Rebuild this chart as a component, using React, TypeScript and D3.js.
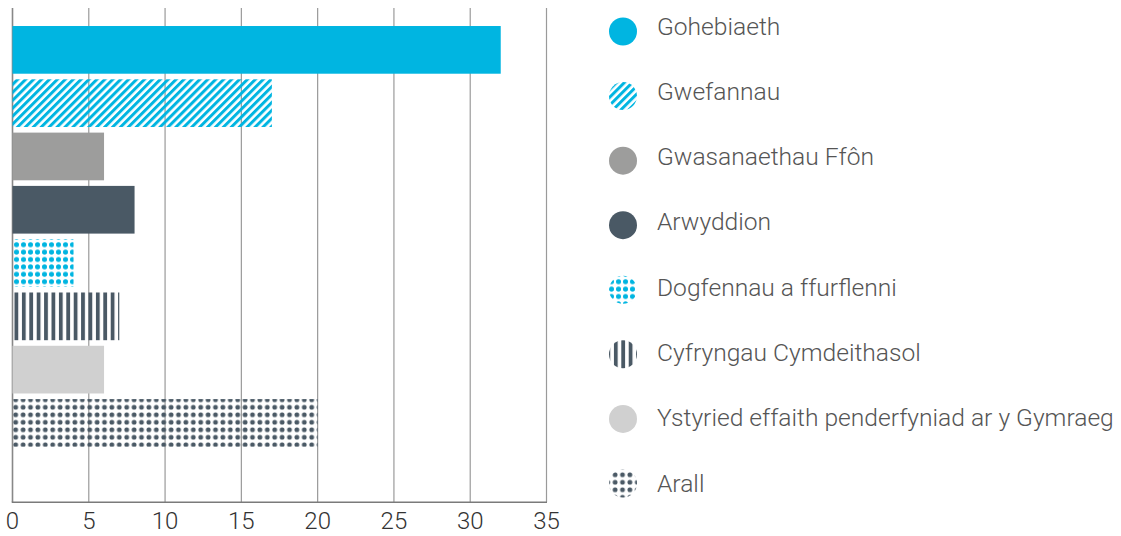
import React from "react";
import * as d3 from "d3";

const categories = [
  "Gohebiaeth",
  "Gwefannau",
  "Gwasanaethau Ffôn",
  "Arwyddion",
  "Dogfennau a ffurflenni",
  "Cyfryngau Cymdeithasol",
  "Ystyried effaith penderfyniad ar y Gymraeg",
  "Arall",
];
const values = [32, 17, 6, 8, 4, 7, 6, 20];
const fills = [
  "#00b5e1",
  "url(#pDiag)",
  "#9d9d9c",
  "#4a5965",
  "url(#pDotsCyan)",
  "url(#pVStripes)",
  "#d0d0d0",
  "url(#pDotsDark)",
];
const xTicks = [0, 5, 10, 15, 20, 25, 30, 35];

const W = 1121;
const H = 536;
const CYAN = "#00b5e1";
const DARK = "#4a5965";
const FONT = "'Helvetica Neue', Roboto, 'Liberation Sans', Arial, sans-serif";

export default function App() {
  const x = d3.scaleLinear().domain([0, 35]).range([12.5, 546.5]);
  const y = d3
    .scaleBand<string>()
    .domain(categories)
    .range([8, 502])
    .paddingInner(0.105)
    .paddingOuter(0.687)
    .align(0.246);
  const legendY = d3.scalePoint<string>().domain(categories).range([31.5, 483.5]);
  const legendTextY = d3.scalePoint<string>().domain(categories).range([26, 483]);

  return (
    <svg
      width={W}
      height={H}
      style={{ position: "absolute", left: 0, top: 0, background: "#fff" }}
    >
      <defs>
        <pattern id="pDiag" patternUnits="userSpaceOnUse" width={5.6} height={5.6} patternTransform="rotate(45)">
          <rect x={0} y={0} width={3} height={5.6} fill={CYAN} />
        </pattern>
        <pattern id="pDotsCyan" patternUnits="userSpaceOnUse" width={7} height={7.4} x={13} y={241}>
          <circle cx={3.5} cy={3.7} r={2.5} fill={CYAN} />
        </pattern>
        <pattern id="pVStripes" patternUnits="userSpaceOnUse" width={7.4} height={10} x={14.5}>
          <rect x={0} y={0} width={3.8} height={10} fill={DARK} />
        </pattern>
        <pattern id="pDotsDark" patternUnits="userSpaceOnUse" width={7.4} height={7.5} x={12} y={396}>
          <circle cx={3.7} cy={3.75} r={2.4} fill={DARK} />
        </pattern>
      </defs>

      {/* grid lines */}
      {xTicks.map((t) => (
        <line
          key={"g" + t}
          x1={x(t)}
          x2={x(t)}
          y1={8}
          y2={502}
          stroke={t === 0 ? "#888" : "#9a9a9a"}
          strokeWidth={t === 0 ? 1.6 : 1.2}
        />
      ))}

      {/* bars */}
      {categories.map((c, i) => (
        <rect
          key={c}
          x={x(0)}
          y={y(c)}
          width={x(values[i]) - x(0)}
          height={y.bandwidth()}
          fill={fills[i]}
        />
      ))}

      {/* bottom axis */}
      <line x1={x(0) - 0.8} x2={x(35) + 0.5} y1={502.3} y2={502.3} stroke="#7a7a7a" strokeWidth={1.6} />

      {xTicks.map((t) => (
        <text
          key={"t" + t}
          x={x(t)}
          y={521}
          textAnchor="middle"
          dominantBaseline="central"
          fontFamily={FONT}
          fontWeight={300}
          fontSize={24}
          fill="#333"
        >
          {t}
        </text>
      ))}

      {/* legend */}
      {categories.map((c, i) => (
        <g key={"l" + c}>
          <circle cx={623} cy={legendY(c) as number} r={14} fill={fills[i]} />
          <text
            x={657}
            y={legendTextY(c) as number}
            dominantBaseline="central"
            fontFamily={FONT}
            fontWeight={300}
            fontSize={24.6}
            fill="#555"
          >
            {c}
          </text>
        </g>
      ))}
    </svg>
  );
}
